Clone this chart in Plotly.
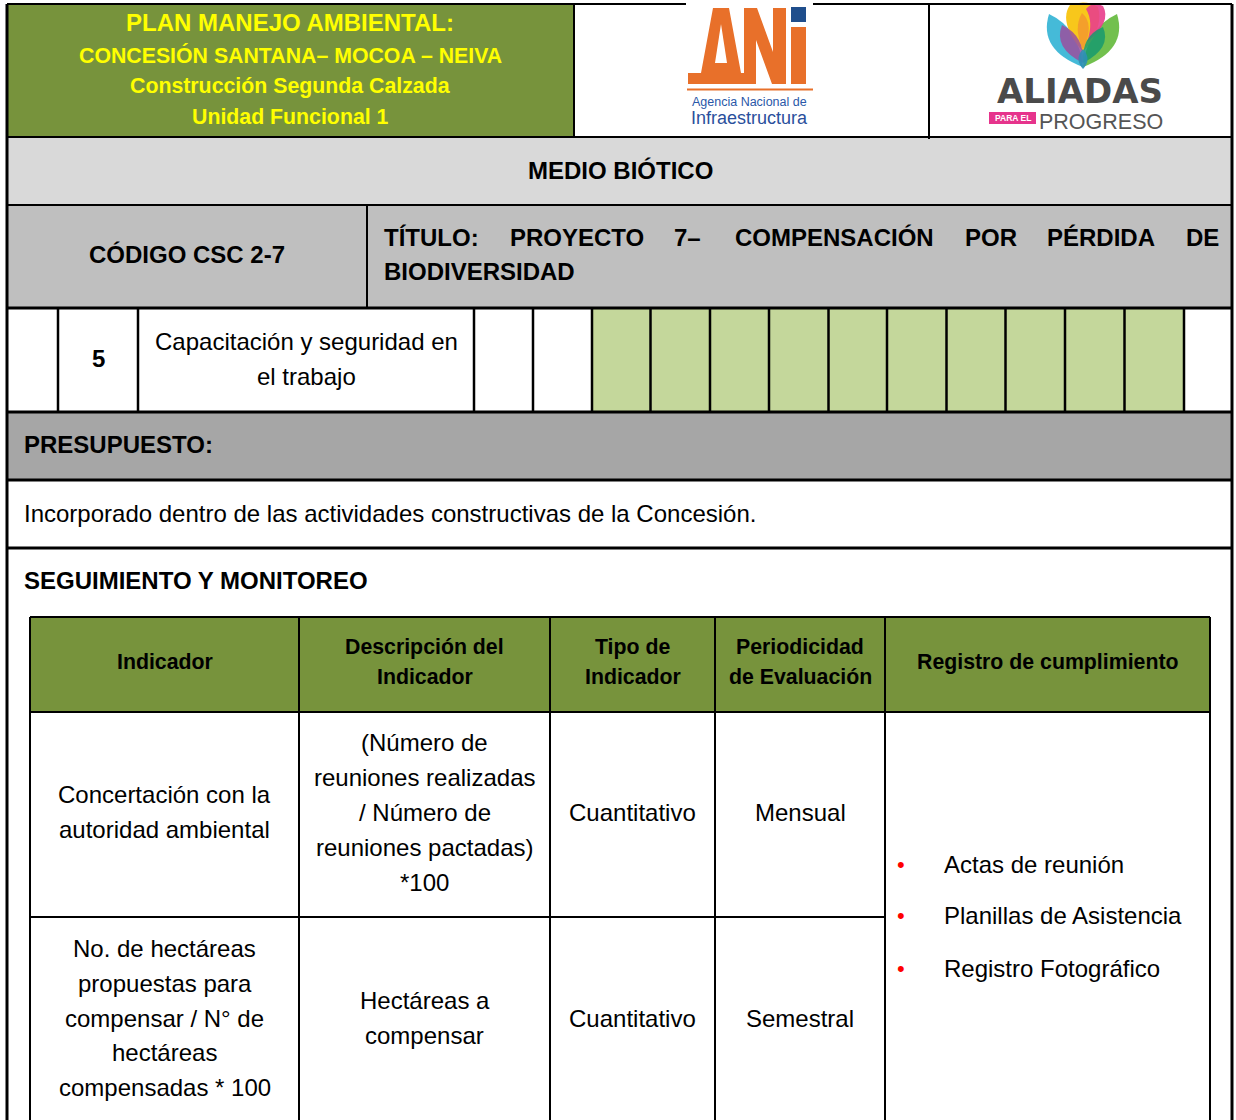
import plotly.graph_objects as go

# ---------------- data (text content) ----------------
header_lines = ["PLAN MANEJO AMBIENTAL:", "CONCESIÓN SANTANA– MOCOA – NEIVA",
                "Construcción Segunda Calzada", "Unidad Funcional 1"]
section_title = "MEDIO BIÓTICO"
codigo = "CÓDIGO CSC 2-7"
titulo_line1 = ["TÍTULO:", "PROYECTO", "7–", "COMPENSACIÓN", "POR", "PÉRDIDA", "DE"]
titulo_line2 = "BIODIVERSIDAD"
actividad_num = "5"
actividad_lines = ["Capacitación y seguridad en", "el trabajo"]
cronograma = [1, 1, 1, 1, 1, 1, 1, 1, 1, 1]
presupuesto_label = "PRESUPUESTO:"
presupuesto_text = "Incorporado dentro de las actividades constructivas de la Concesión."
seguimiento_label = "SEGUIMIENTO Y MONITOREO"
table_headers = [["Indicador"], ["Descripción del", "Indicador"], ["Tipo de", "Indicador"],
                 ["Periodicidad", "de Evaluación"], ["Registro de cumplimiento"]]
indicadores = [["Concertación con la", "autoridad ambiental"],
               ["No. de hectáreas", "propuestas para", "compensar / N° de", "hectáreas",
                "compensadas * 100"]]
descripciones = [["(Número de", "reuniones realizadas", "/ Número de", "reuniones pactadas)", "*100"],
                 ["Hectáreas a", "compensar"]]
tipos = ["Cuantitativo", "Cuantitativo"]
periodicidades = ["Mensual", "Semestral"]
registros = ["Actas de reunión", "Planillas de Asistencia", "Registro Fotográfico"]

# ---------------- geometry / styles ----------------
W, H = 1236, 1120
FONT = "Liberation Sans, Arial, sans-serif"
OLIVE = "#77933c"
LIGHT_GREEN = "#c4d79b"
XL, XR = 7, 1232
shapes, annots = [], []


def rect(x0, y0, x1, y1, fill, lw=0, lc="black"):
    shapes.append(dict(type="rect", xref="x", yref="y", x0=x0, y0=y0, x1=x1, y1=y1,
                       fillcolor=fill, line=dict(width=lw, color=lc), layer="above"))


def line(x0, y0, x1, y1, w=2, c="black"):
    shapes.append(dict(type="line", xref="x", yref="y", x0=x0, y0=y0, x1=x1, y1=y1,
                       line=dict(width=w, color=c), layer="above"))


def path(d, fill, opacity=1.0):
    shapes.append(dict(type="path", xref="x", yref="y", path=d, fillcolor=fill,
                       opacity=opacity, line=dict(width=0), layer="above"))


def text(x, y, s, size=24, bold=False, color="black", anchor="center", family=FONT):
    annots.append(dict(x=x, y=y, xref="x", yref="y", text=("<b>%s</b>" % s) if bold else s,
                       showarrow=False, xanchor=anchor, yanchor="middle",
                       font=dict(family=family, size=size, color=color)))


def lines_block(x, yc, items, spacing, **kw):
    n = len(items)
    for i, s in enumerate(items):
        text(x, yc + (i - (n - 1) / 2) * spacing, s, **kw)


# ---------------- header row ----------------
rect(XL, 4, 574, 137, OLIVE)
rect(574, 4, 929, 137, "white")
rect(929, 4, XR, 137, "white")
hdr_y = [22, 55, 86, 117]
hdr_size = [24, 21.3, 21.3, 21.3]
for s, y, sz in zip(header_lines, hdr_y, hdr_size):
    text(290, y, s, size=sz, bold=True, color="#ffff00")

# ANI logo
ORANGE = "#e8702a"
path("M 713 8 L 729 8 L 741 73 L 746 73 L 746 84 L 688 84 L 688 73 L 701 73 Z", ORANGE)
path("M 721 24 L 727 63 L 715 63 Z", "white")
path("M 744 8 L 757 8 L 773 52 L 773 8 L 786 8 L 786 84 L 772 84 L 756 40 L 756 84 L 744 84 Z", ORANGE)
rect(791, 27, 806, 84, ORANGE)
rect(791, 7, 806, 22, "#1f4e8c")
rect(687, 88.5, 813, 90.5, ORANGE)
text(749, 102, "Agencia Nacional de", size=12.5, color="#2a58a8")
text(749, 118, "Infraestructura", size=18, color="#2a4f9c")

# Aliadas logo (tulip + text)
path("M 1083 67 Q 1038 50 1049 14 Q 1079 28 1083 67 Z", "#3bb6d6", 0.95)
path("M 1083 67 Q 1128 50 1117 14 Q 1087 28 1083 67 Z", "#6abd45", 0.95)
path("M 1083 52 Q 1058 22 1070 5 Q 1086 -1 1098 7 Q 1104 28 1083 52 Z", "#f8c40f", 0.95)
path("M 1087 42 Q 1112 22 1103 6 Q 1093 1 1086 9 Q 1094 22 1087 42 Z", "#e83e8c", 0.9)
path("M 1083 50 Q 1073 28 1082 13 Q 1095 24 1083 50 Z", "#f39a2e", 0.9)
path("M 1083 63 Q 1053 48 1062 25 Q 1085 36 1083 63 Z", "#9b4f9f", 0.85)
path("M 1083 63 Q 1112 48 1103 27 Q 1081 36 1083 63 Z", "#179a6e", 0.85)
path("M 1083 69 Q 1074 59 1083 49 Q 1092 59 1083 69 Z", "#2d8fb5", 0.9)
text(1080, 91, "ALIADAS", size=34, bold=True, color="#4a4a4a", family="DejaVu Sans, Liberation Sans")
rect(989, 112, 1036, 124, "#e6348c")
text(1012.5, 118, "PARA EL", size=8.5, bold=True, color="white")
text(1037, 122, "PROGRESO", size=21.5, color="#555555", anchor="left")

# ---------------- medio biótico / código rows ----------------
rect(XL, 137, XR, 205, "#d9d9d9")
text(620, 170, section_title, bold=True)
rect(XL, 205, XR, 307, "#bfbfbf")
text(187, 254, codigo, bold=True)
title_x = [382, 508, 672, 733, 963, 1045, 1184]
for s, x in zip(titulo_line1, title_x):
    text(x, 237, s, bold=True, anchor="left")
text(382, 271, titulo_line2, bold=True, anchor="left")

# ---------------- activity row 5 ----------------
rect(XL, 309, XR, 412, "white")
cron_x = [592, 650.5, 710, 769, 828.5, 887, 946.5, 1005.5, 1065, 1124.5, 1184]
for i, v in enumerate(cronograma):
    if v:
        rect(cron_x[i], 309, cron_x[i + 1], 412, LIGHT_GREEN)
text(98, 358, actividad_num, bold=True)
lines_block(306, 358.5, actividad_lines, 35)

# ---------------- presupuesto ----------------
rect(XL, 413, XR, 480, "#a6a6a6")
text(22, 444, presupuesto_label, bold=True, anchor="left")
text(22, 513, presupuesto_text, anchor="left")
text(22, 580, seguimiento_label, bold=True, anchor="left")

# ---------------- monitoring table ----------------
TC = [30, 299, 550, 715, 885, 1210]
rect(TC[0], 617, TC[-1], 712, OLIVE)
for i, hl in enumerate(table_headers):
    xc = (TC[i] + TC[i + 1]) / 2
    lines_block(xc, 662, hl, 30, size=21.3, bold=True)

row_c = [812, 1018]
for r in range(2):
    lines_block((TC[0] + TC[1]) / 2, row_c[r], indicadores[r], 34.7)
    lines_block((TC[1] + TC[2]) / 2, row_c[r] if r == 0 else 1017.5, descripciones[r], 35)
    text((TC[2] + TC[3]) / 2, row_c[r], tipos[r])
    text((TC[3] + TC[4]) / 2, row_c[r], periodicidades[r])
reg_y = [864, 915, 968]
for s, y in zip(registros, reg_y):
    text(901, y, "•", size=22, color="#ff0000")
    text(942, y, s, anchor="left")

# ---------------- borders ----------------
line(XL, 4, XR, 4, 2)
rect(686, 2, 813, 6, "white")
line(574, 4, 574, 137, 2)
line(929, 4, 929, 139, 2)
line(XL, 137, XR, 137, 2)
line(XL, 205, XR, 205, 2)
line(367, 205, 367, 307, 2)
line(XL, 308, XR, 308, 3)
for x in [58, 138, 474, 533] + cron_x:
    line(x, 308, x, 412, 2.5)
line(XL, 412, XR, 412, 3)
line(XL, 480, XR, 480, 3)
line(XL, 548, XR, 548, 3)
# table lines
line(TC[0], 617, TC[-1], 617, 2)
line(TC[0], 712, TC[-1], 712, 2)
line(TC[0], 917, TC[4], 917, 2)
for x in TC:
    line(x, 617, x, 1125, 2)
# outer verticals
line(XL, 4, XL, 1125, 3)
line(XR, 4, XR, 1125, 3)

fig = go.Figure()
fig.update_layout(
    width=W, height=H, margin=dict(l=0, r=0, t=0, b=0),
    paper_bgcolor="white", plot_bgcolor="white",
    xaxis=dict(range=[0, W], visible=False, fixedrange=True),
    yaxis=dict(range=[H, 0], visible=False, fixedrange=True),
    shapes=shapes, annotations=annots, showlegend=False,
)
fig.write_html("out.html", config={"displayModeBar": False},
               post_script="document.body.style.margin='0';document.body.style.overflow='hidden';")
